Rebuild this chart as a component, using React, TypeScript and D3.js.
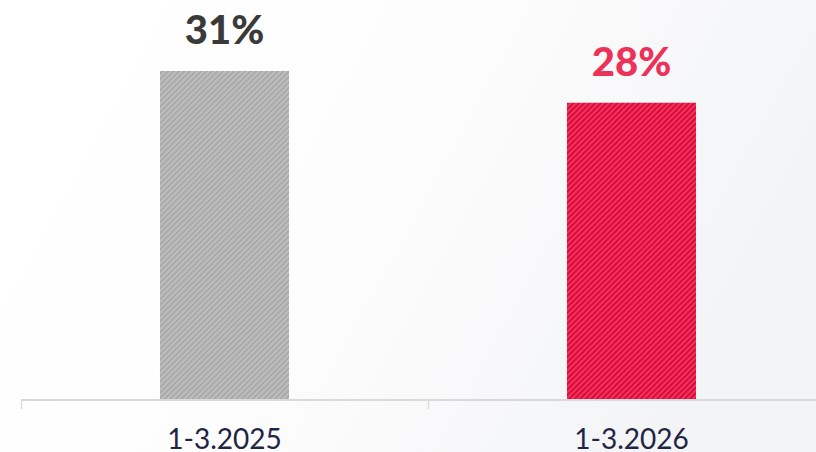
import React from "react";
import * as d3 from "d3";

const categories = ["1-3.2025", "1-3.2026"];
const values = [31, 28];
const valueLabels = ["31%", "28%"];

const W = 816;
const H = 452;
const S = 5.5;

export default function App() {
  const x = d3.scaleBand<string>().domain(categories).range([21, 835]).padding(0);
  const y = d3.scaleLinear().domain([0, 31]).range([399, 71]);
  const barW = x.bandwidth() * 0.317;
  const fills = ["url(#hatchGray)", "url(#hatchRed)"];
  const labelColors = ["#3a3a3a", "#ee3158"];
  const hatchPath = `M-1,1 l2,-2 M0,${S} l${S},${-S} M${S - 1},${S + 1} l2,-2`;

  return (
    <svg width={W} height={H} style={{ position: "absolute", left: 0, top: 0 }}>
      <defs>
        <linearGradient id="bg" x1="0" y1="0" x2="1" y2="0.3">
          <stop offset="0" stopColor="#ffffff" />
          <stop offset="0.5" stopColor="#fdfdfd" />
          <stop offset="1" stopColor="#f3f4f6" />
        </linearGradient>
        <pattern id="hatchGray" width={S} height={S} patternUnits="userSpaceOnUse">
          <rect width={S} height={S} fill="#a8a8a8" />
          <path d={hatchPath} stroke="#c0c0c0" strokeWidth={1.8} />
        </pattern>
        <pattern id="hatchRed" width={S} height={S} patternUnits="userSpaceOnUse">
          <rect width={S} height={S} fill="#f3375f" />
          <path d={hatchPath} stroke="#d60536" strokeWidth={1.8} />
        </pattern>
      </defs>
      <rect width={W} height={H} fill="url(#bg)" />
      {categories.map((c, i) => {
        const cx = (x(c) as number) + x.bandwidth() / 2;
        const top = y(values[i]);
        return (
          <g key={c}>
            <rect x={cx - barW / 2} y={top} width={barW} height={y(0) - top} fill={fills[i]} />
            <text
              x={cx}
              y={top - 27}
              textAnchor="middle"
              fontFamily="Lato"
              fontWeight={900}
              fontSize={40}
              fill={labelColors[i]}
            >
              {valueLabels[i]}
            </text>
            <text
              x={cx}
              y={449}
              textAnchor="middle"
              fontFamily="Lato"
              fontWeight={400}
              fontSize={28}
              fill="#1f2544"
            >
              {c}
            </text>
          </g>
        );
      })}
      <line x1={21} x2={W} y1={400} y2={400} stroke="#d9d9d9" strokeWidth={2} />
      {categories.map((c) => (
        <line key={c} x1={(x(c) as number) + 0.5} x2={(x(c) as number) + 0.5} y1={400} y2={409} stroke="#dcdcdc" strokeWidth={1.5} />
      ))}
    </svg>
  );
}
